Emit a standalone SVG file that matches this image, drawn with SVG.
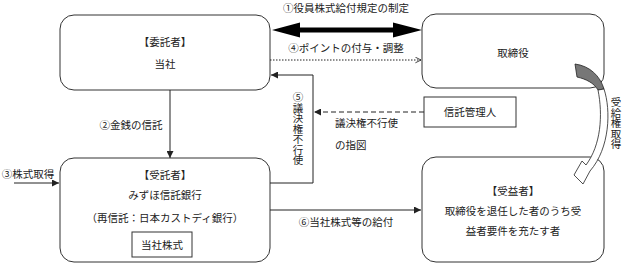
<svg xmlns="http://www.w3.org/2000/svg" width="624" height="264" viewBox="0 0 624 264">
<defs>
<marker id="tri" viewBox="0 0 10 10" refX="10" refY="5" markerWidth="7" markerHeight="7" markerUnits="userSpaceOnUse" orient="auto"><path d="M0,0 L10,5 L0,10 z" fill="#222"/></marker>
<marker id="open" viewBox="0 0 10 10" refX="9" refY="5" markerWidth="7" markerHeight="7" markerUnits="userSpaceOnUse" orient="auto"><path d="M1,1 L9,5 L1,9" fill="none" stroke="#222" stroke-width="1.2"/></marker>
<style>
text{font-family:"Noto Sans CJK JP","Noto Sans CJK SC",sans-serif;font-size:10.5px;fill:#222}
.c{text-anchor:middle}
.v{writing-mode:vertical-rl;text-anchor:start}
.box{fill:#fff;stroke:#333;stroke-width:1}
.ln{fill:none;stroke:#222;stroke-width:1}
</style>
</defs>
<rect width="624" height="264" fill="#fff"/>
<g id="itakusha">
<rect class="box" x="60" y="15" width="210" height="75" rx="14"/>
<text x="165" y="46" class="c">【委託者】</text>
<text x="165" y="68" class="c">当社</text>
</g>
<g id="torishimariyaku">
<rect class="box" x="422" y="14" width="182" height="74" rx="14"/>
<text x="513" y="57" class="c">取締役</text>
</g>
<g id="shintakukanrinin">
<rect class="box" x="424" y="97" width="92" height="30"/>
<text x="470" y="116" class="c">信託管理人</text>
</g>
<g id="jutakusha">
<rect class="box" x="60" y="158" width="210" height="104" rx="14"/>
<text x="165" y="179" class="c">【受託者】</text>
<text x="165" y="199" class="c">みずほ信託銀行</text>
<text x="165" y="222" class="c">（再信託：日本カストディ銀行）</text>
<rect class="box" x="132" y="232" width="60" height="25"/>
<text x="162" y="249" class="c">当社株式</text>
</g>
<g id="jueki">
<rect class="box" x="422" y="157" width="182" height="105" rx="14"/>
<text x="513" y="195" class="c">【受益者】</text>
<text x="513" y="215" class="c">取締役を退任した者のうち受</text>
<text x="513" y="235" class="c">益者要件を充たす者</text>
</g>
<g id="connectors">
<polygon points="272,30 300,22.5 300,27.5 393,27.5 393,22.5 422,30 393,37.5 393,32.5 300,32.5 300,37.5" fill="#000"/>
<line class="ln" x1="270" y1="60" x2="421" y2="60" stroke-dasharray="1.5,1.5" marker-end="url(#open)"/>
<line class="ln" x1="170" y1="90" x2="170" y2="158" marker-end="url(#tri)"/>
<line class="ln" x1="14" y1="183" x2="59" y2="183" marker-end="url(#tri)"/>
<polyline class="ln" points="270,183 313,183 313,75 271,75" marker-end="url(#tri)"/>
<line class="ln" x1="424" y1="112" x2="314" y2="112" stroke-dasharray="5,3" marker-end="url(#tri)"/>
<line class="ln" x1="270" y1="210" x2="421" y2="210" marker-end="url(#tri)"/>
<path d="M575,64 C590,66 600,76 604,89 L598,90 C594,83 586,79 577,77 Z" fill="#777" stroke="#222" stroke-width="0.8"/>
<path d="M604,89 C611,110 610,148 590,171 L583,184 L574,175 L582,161 L586,165 C601,145 603,115 598,90 Z" fill="#fff" stroke="#222" stroke-width="0.8"/>
<text x="346" y="12" class="c">①役員株式給付規定の制定</text>
<text x="346" y="52" class="c">④ポイントの付与・調整</text>
<text x="131" y="129" class="c">②金銭の信託</text>
<text x="28" y="178" class="c">③株式取得</text>
<text x="298" y="92" class="v">⑤議決権不行使</text>
<text x="335" y="127">議決権不行使</text>
<text x="335" y="149">の指図</text>
<text x="346" y="226" class="c">⑥当社株式等の給付</text>
<text x="616" y="97" class="v">受給権取得</text>
</g>
</svg>
